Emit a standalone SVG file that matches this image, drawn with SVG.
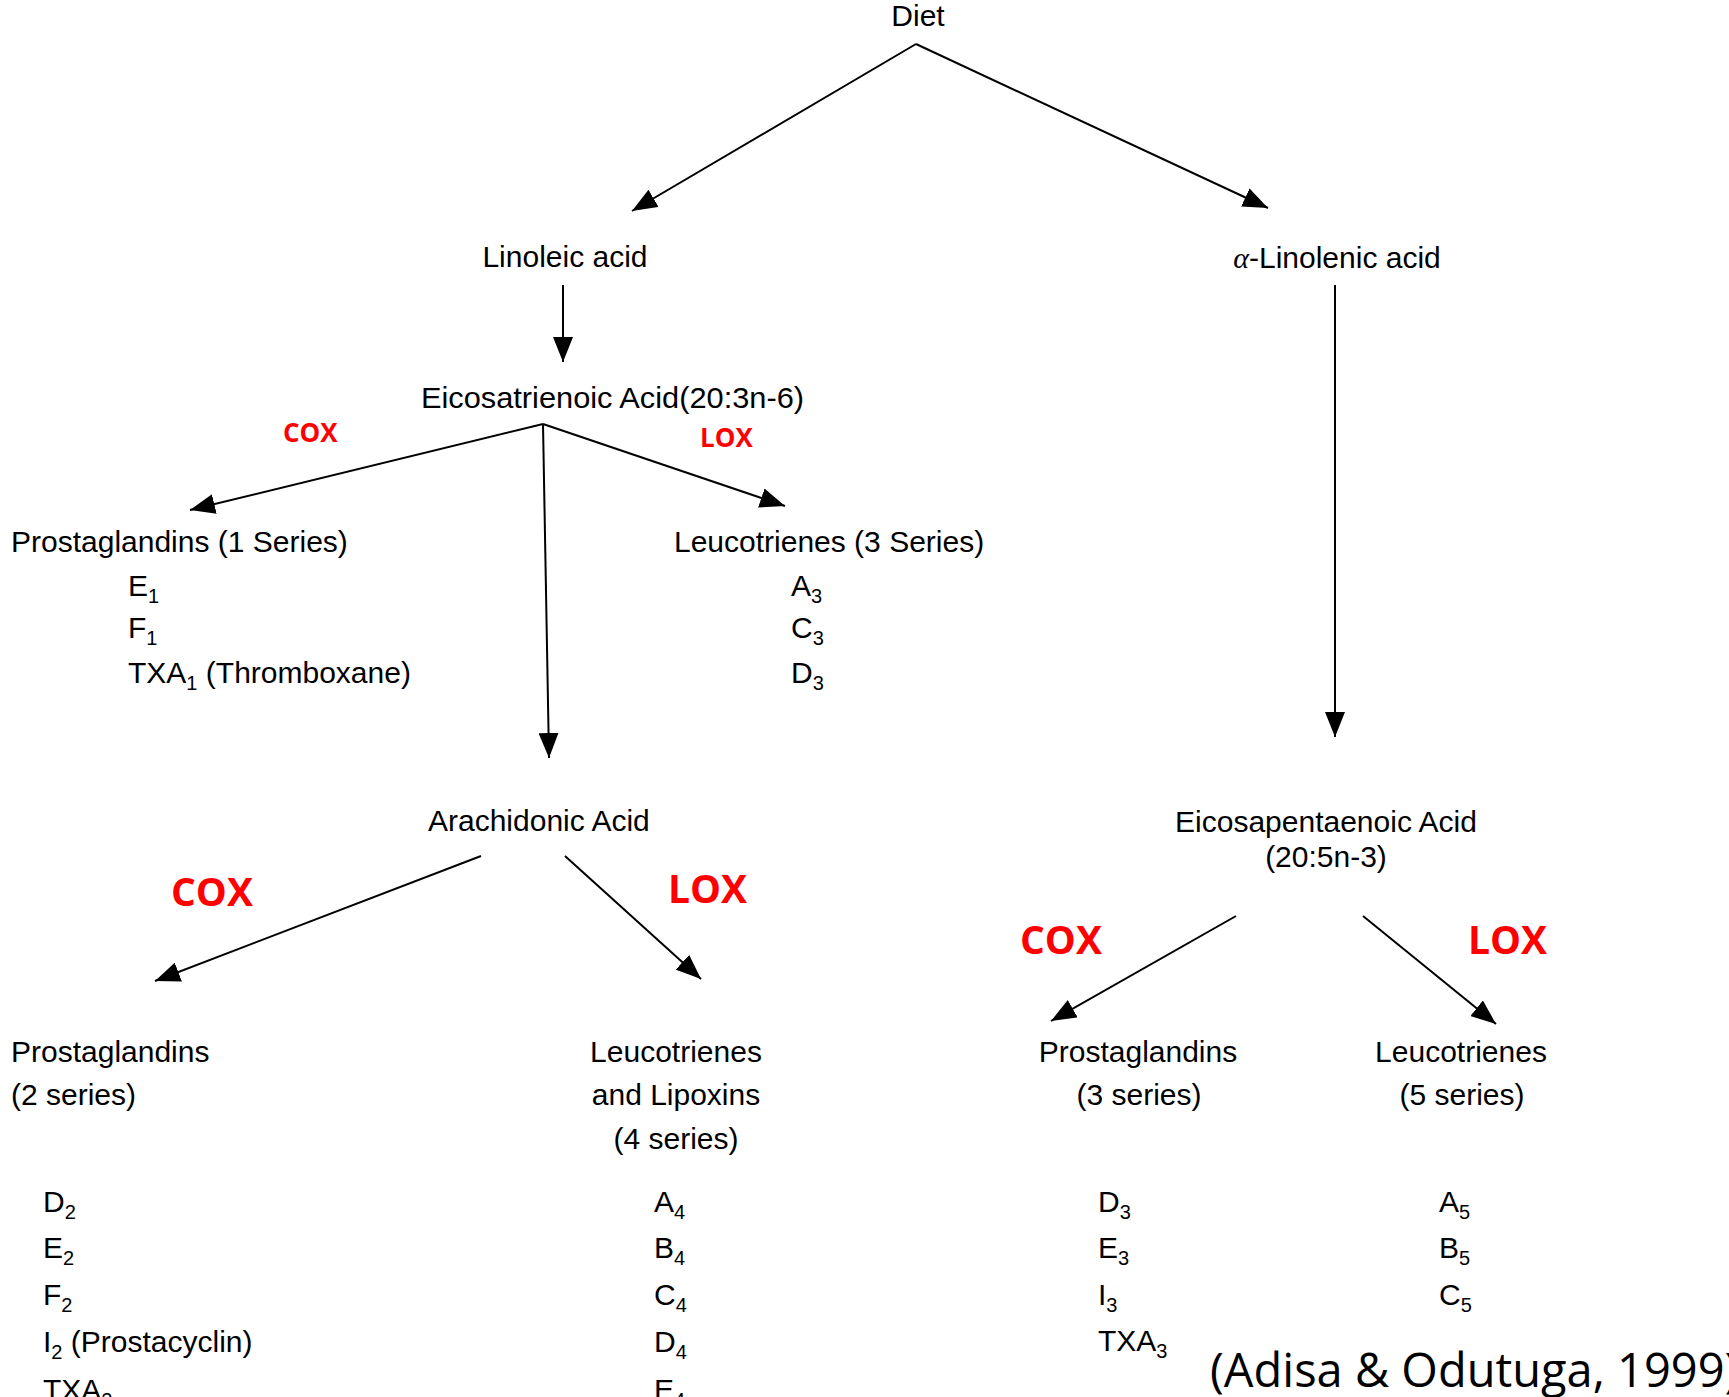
<svg xmlns="http://www.w3.org/2000/svg" width="1729" height="1397" viewBox="0 0 1729 1397">
<style>
.t{font-family:"Liberation Sans",Arial,sans-serif;font-size:30px;fill:#000}
.m{text-anchor:middle}
.s{font-size:20px}
.rs{font-family:"Open Sans","Liberation Sans",sans-serif;font-weight:bold;font-size:26px;fill:#FF0000}
.rb{font-family:"Open Sans","Liberation Sans",sans-serif;font-weight:bold;font-size:39px;fill:#FF0000}
.cite{font-family:"Open Sans","Liberation Sans",sans-serif;font-size:47px;fill:#000}
.c{stroke:#000;stroke-width:2;fill:none;marker-end:url(#ah)}
</style>
<defs>
<marker id="ah" markerUnits="userSpaceOnUse" markerWidth="26" markerHeight="20" refX="25" refY="10" orient="auto">
<path d="M0,0 L25,10 L0,20 z" fill="#000"/>
</marker>
</defs>
<rect width="1729" height="1397" fill="#fff"/>
<g id="connectors">
<line class="c" x1="916" y1="44" x2="632" y2="211"/>
<line class="c" x1="916" y1="44" x2="1268" y2="208"/>
<line class="c" x1="563" y1="285" x2="563" y2="362"/>
<line class="c" x1="1335" y1="285" x2="1335" y2="737"/>
<line class="c" x1="543" y1="424" x2="190" y2="510"/>
<line class="c" x1="543" y1="424" x2="785" y2="506"/>
<line class="c" x1="543" y1="424" x2="549" y2="758"/>
<line class="c" x1="481" y1="856" x2="155" y2="981"/>
<line class="c" x1="565" y1="856" x2="701" y2="979"/>
<line class="c" x1="1236" y1="916" x2="1051" y2="1021"/>
<line class="c" x1="1363" y1="916" x2="1496" y2="1024"/>
</g>
<g id="enzyme-labels">
<text class="rs" x="283" y="442">COX</text>
<text class="rs" x="700" y="447">LOX</text>
<text class="rb" x="171" y="906">COX</text>
<text class="rb" x="668" y="903">LOX</text>
<text class="rb" x="1020" y="954">COX</text>
<text class="rb" x="1468" y="954">LOX</text>
</g>
<g id="diet"><text class="t m" x="918" y="26">Diet</text></g>
<g id="linoleic"><text class="t m" x="565" y="267">Linoleic acid</text></g>
<g id="alpha-linolenic"><text class="t m" x="1337" y="268"><tspan font-family="Liberation Serif,serif" font-style="italic">α</tspan>-Linolenic acid</text></g>
<g id="eicosatrienoic"><text class="t" x="421" y="408" textLength="383" lengthAdjust="spacingAndGlyphs">Eicosatrienoic Acid(20:3n-6)</text></g>
<g id="pg1">
<text class="t" x="11" y="552">Prostaglandins (1 Series)</text>
<text class="t" x="128" y="596">E<tspan class="s" dy="7">1</tspan></text>
<text class="t" x="128" y="638">F<tspan class="s" dy="7">1</tspan></text>
<text class="t" x="128" y="683">TXA<tspan class="s" dy="7">1</tspan><tspan dy="-7"> (Thromboxane)</tspan></text>
</g>
<g id="lt3">
<text class="t" x="674" y="552">Leucotrienes (3 Series)</text>
<text class="t" x="791" y="596">A<tspan class="s" dy="7">3</tspan></text>
<text class="t" x="791" y="638">C<tspan class="s" dy="7">3</tspan></text>
<text class="t" x="791" y="683">D<tspan class="s" dy="7">3</tspan></text>
</g>
<g id="arachidonic"><text class="t" x="428" y="831">Arachidonic Acid</text></g>
<g id="epa">
<text class="t m" x="1326" y="832">Eicosapentaenoic Acid</text>
<text class="t m" x="1326" y="867">(20:5n-3)</text>
</g>
<g id="pg2">
<text class="t" x="11" y="1062">Prostaglandins</text>
<text class="t" x="11" y="1105">(2 series)</text>
<text class="t" x="43" y="1212">D<tspan class="s" dy="7">2</tspan></text>
<text class="t" x="43" y="1258">E<tspan class="s" dy="7">2</tspan></text>
<text class="t" x="43" y="1305">F<tspan class="s" dy="7">2</tspan></text>
<text class="t" x="43" y="1352">I<tspan class="s" dy="7">2</tspan><tspan dy="-7"> (Prostacyclin)</tspan></text>
<text class="t" x="43" y="1400">TXA<tspan class="s" dy="7">2</tspan></text>
</g>
<g id="lt4">
<text class="t m" x="676" y="1062">Leucotrienes</text>
<text class="t m" x="676" y="1105">and Lipoxins</text>
<text class="t m" x="676" y="1149">(4 series)</text>
<text class="t" x="654" y="1212">A<tspan class="s" dy="7">4</tspan></text>
<text class="t" x="654" y="1258">B<tspan class="s" dy="7">4</tspan></text>
<text class="t" x="654" y="1305">C<tspan class="s" dy="7">4</tspan></text>
<text class="t" x="654" y="1352">D<tspan class="s" dy="7">4</tspan></text>
<text class="t" x="654" y="1400">E<tspan class="s" dy="7">4</tspan></text>
</g>
<g id="pg3">
<text class="t m" x="1138" y="1062">Prostaglandins</text>
<text class="t m" x="1139" y="1105">(3 series)</text>
<text class="t" x="1098" y="1212">D<tspan class="s" dy="7">3</tspan></text>
<text class="t" x="1098" y="1258">E<tspan class="s" dy="7">3</tspan></text>
<text class="t" x="1098" y="1305">I<tspan class="s" dy="7">3</tspan></text>
<text class="t" x="1098" y="1351">TXA<tspan class="s" dy="7">3</tspan></text>
</g>
<g id="lt5">
<text class="t m" x="1461" y="1062">Leucotrienes</text>
<text class="t m" x="1462" y="1105">(5 series)</text>
<text class="t" x="1439" y="1212">A<tspan class="s" dy="7">5</tspan></text>
<text class="t" x="1439" y="1258">B<tspan class="s" dy="7">5</tspan></text>
<text class="t" x="1439" y="1305">C<tspan class="s" dy="7">5</tspan></text>
</g>
<g id="citation"><text class="cite" x="1210" y="1387">(Adisa &amp; Odutuga, 1999)</text></g>
</svg>
